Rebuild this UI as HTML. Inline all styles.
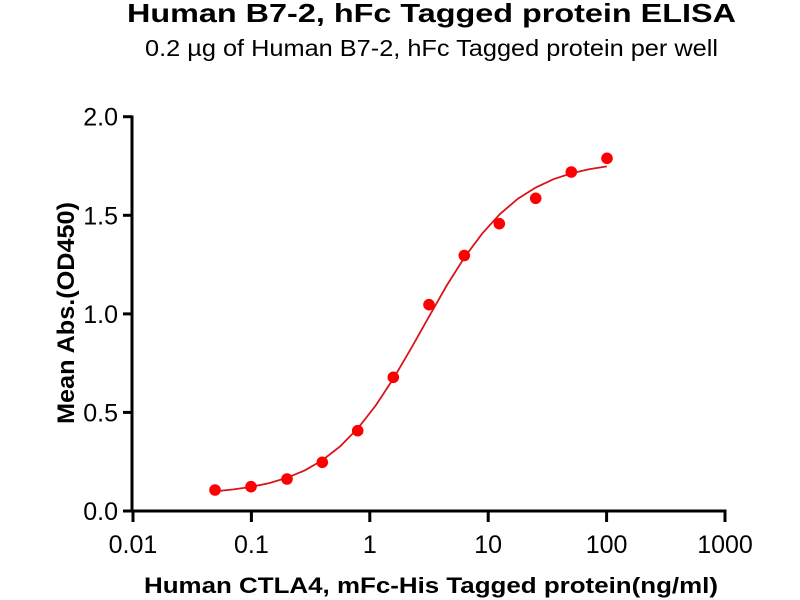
<!DOCTYPE html>
<html>
<head>
<meta charset="utf-8">
<style>
html,body{margin:0;padding:0;background:#fff;}
svg{display:block;}
text{font-family:"Liberation Sans",Arial,sans-serif;fill:#000;}
</style>
</head>
<body>
<svg width="800" height="600" viewBox="0 0 800 600" xmlns="http://www.w3.org/2000/svg">
<rect width="800" height="600" fill="#fff"/>
<!-- Titles -->
<text x="127" y="22" font-size="26" font-weight="bold" textLength="609" lengthAdjust="spacingAndGlyphs">Human B7-2, hFc Tagged protein ELISA</text>
<text x="145" y="56" font-size="23" textLength="573" lengthAdjust="spacingAndGlyphs">0.2 µg of Human B7-2, hFc Tagged protein per well</text>

<!-- Axes -->
<g stroke="#000" stroke-width="3" fill="none">
<line x1="132" y1="115.5" x2="132" y2="512.5"/>
<line x1="130.5" y1="511" x2="726.5" y2="511"/>
<!-- y ticks -->
<line x1="123" y1="116.7" x2="132" y2="116.7"/>
<line x1="123" y1="215.3" x2="132" y2="215.3"/>
<line x1="123" y1="313.9" x2="132" y2="313.9"/>
<line x1="123" y1="412.4" x2="132" y2="412.4"/>
<line x1="123" y1="511" x2="132" y2="511"/>
<!-- x ticks -->
<line x1="133" y1="511" x2="133" y2="522"/>
<line x1="251.4" y1="511" x2="251.4" y2="522"/>
<line x1="369.8" y1="511" x2="369.8" y2="522"/>
<line x1="488.2" y1="511" x2="488.2" y2="522"/>
<line x1="606.6" y1="511" x2="606.6" y2="522"/>
<line x1="725" y1="511" x2="725" y2="522"/>
</g>

<!-- y tick labels -->
<g font-size="25" text-anchor="end">
<text x="118" y="125.5">2.0</text>
<text x="118" y="224.5">1.5</text>
<text x="118" y="323">1.0</text>
<text x="118" y="421.5">0.5</text>
<text x="118" y="520">0.0</text>
</g>
<!-- x tick labels -->
<g font-size="25" text-anchor="middle">
<text x="133" y="553">0.01</text>
<text x="251.4" y="553">0.1</text>
<text x="369.8" y="553">1</text>
<text x="488.2" y="553">10</text>
<text x="606.6" y="553">100</text>
<text x="725" y="553">1000</text>
</g>

<!-- axis labels -->
<text transform="translate(74,313) rotate(-90)" x="0" y="0" font-size="24" font-weight="bold" text-anchor="middle" textLength="222" lengthAdjust="spacingAndGlyphs">Mean Abs.(OD450)</text>
<text x="144" y="593" font-size="22" font-weight="bold" textLength="574" lengthAdjust="spacingAndGlyphs">Human CTLA4, mFc-His Tagged protein(ng/ml)</text>

<!-- fitted curve -->
<polyline fill="none" stroke="#d8141c" stroke-width="1.8" points="214.7,491.4 233.6,489.4 251.4,486.9 269.2,483.1 286.9,477.8 304.7,470.4 322.5,460.1 340.2,446.3 358.0,428.2 375.8,405.4 393.5,378.4 411.3,348.1 429.1,316.4 446.8,285.4 464.6,257.2 482.4,233.3 500.2,213.8 517.9,198.7 535.7,187.5 553.5,179.2 571.2,173.4 589.0,169.2 606.8,166.4"/>

<!-- data points -->
<g fill="#ff0000">
<circle cx="215" cy="490" r="5.8"/>
<circle cx="251" cy="486.7" r="5.8"/>
<circle cx="287" cy="479" r="5.8"/>
<circle cx="322.3" cy="462.3" r="5.8"/>
<circle cx="357.7" cy="430.7" r="5.8"/>
<circle cx="393.3" cy="377.3" r="5.8"/>
<circle cx="429" cy="304.7" r="5.8"/>
<circle cx="464.3" cy="255.5" r="5.8"/>
<circle cx="499.3" cy="223.7" r="5.8"/>
<circle cx="535.7" cy="198.3" r="5.8"/>
<circle cx="571.3" cy="172" r="5.8"/>
<circle cx="607" cy="158.3" r="5.8"/>
</g>
</svg>
</body>
</html>
